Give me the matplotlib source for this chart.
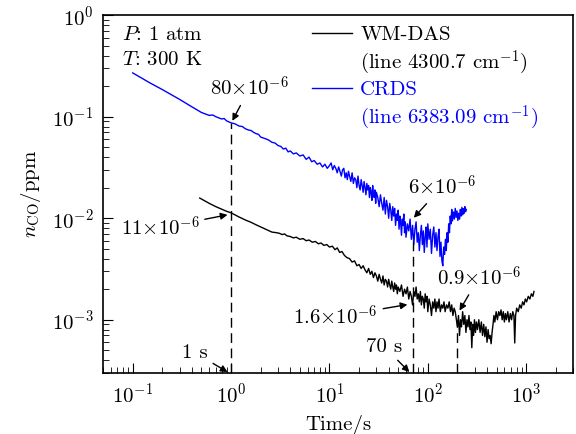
import numpy as np
import matplotlib
matplotlib.use("Agg")
import matplotlib.pyplot as plt

plt.rcParams['font.family'] = 'serif'
plt.rcParams['font.serif'] = ['cmr10', 'DejaVu Serif']
plt.rcParams['mathtext.fontset'] = 'cm'
plt.rcParams['axes.formatter.use_mathtext'] = True

# CRDS trace (line 6383.09 cm-1), early smooth part then the noisy tail
crds_t_early = [0.10, 0.15, 0.20, 0.30, 0.40, 0.50, 0.60, 0.65, 0.70, 0.80, 0.85, 0.90,
                1.0, 1.1, 1.2, 1.3, 1.4, 1.5, 1.6, 1.7, 1.8, 1.9, 2.0, 2.2, 2.4, 2.6,
                2.8, 3.0, 3.2, 3.4, 3.6, 3.8, 4.0, 4.3, 4.6, 5.0, 5.4, 5.8, 6.2, 6.6,
                7.0, 7.5, 8.0, 8.5, 9.0, 9.5]
crds_n_early = [0.270, 0.215, 0.185, 0.148, 0.125, 0.110, 0.103, 0.104, 0.100, 0.095,
                0.096, 0.091, 0.087, 0.085, 0.081, 0.080, 0.076, 0.074, 0.073, 0.070,
                0.068, 0.067, 0.063, 0.061, 0.059, 0.056, 0.055, 0.052, 0.051, 0.048,
                0.049, 0.045, 0.046, 0.043, 0.044, 0.041, 0.042, 0.038, 0.040, 0.036,
                0.037, 0.034, 0.035, 0.032, 0.034, 0.031]
crds_t_late = [10, 10.4, 10.8, 11.2, 11.6, 12, 12.4, 12.8, 13.2, 13.6,
               14, 14.4, 14.8, 15.2, 15.6, 16, 16.5, 17, 17.5, 18,
               18.5, 19, 19.5, 20, 20.5, 21, 21.5, 22, 22.5, 23,
               23.5, 24, 24.5, 25, 25.5, 26, 26.5, 27, 27.5, 28,
               28.5, 29, 29.5, 30, 31, 32, 33, 34, 35, 36,
               37, 38, 39, 40, 41, 42, 43, 44, 45, 46,
               47, 48, 49, 50, 51, 52, 53, 54, 55, 56,
               57, 58, 59, 60, 62, 64, 66, 68, 70, 72,
               74, 76, 78, 80, 82, 84, 86, 88, 90, 92,
               94, 96, 98, 100, 103, 106, 109, 112, 115, 118,
               121, 124, 127, 130, 133, 136, 139, 142, 145, 148,
               151, 154, 157, 160, 163, 166, 169, 172, 175, 178,
               182, 186, 190, 194, 198, 202, 206, 210, 214, 218,
               222, 226, 230, 234, 238, 242, 246]
crds_n_late = [0.033, 0.035, 0.030, 0.033, 0.031, 0.028, 0.032, 0.029, 0.026, 0.030,
               0.031, 0.025, 0.028, 0.024, 0.029, 0.026, 0.023, 0.028, 0.022, 0.025,
               0.024, 0.020, 0.026, 0.021, 0.019, 0.024, 0.021, 0.018, 0.023, 0.020,
               0.017, 0.022, 0.019, 0.021, 0.016, 0.020, 0.018, 0.015, 0.021, 0.017,
               0.016, 0.019, 0.014, 0.018, 0.016, 0.013, 0.017, 0.014, 0.012, 0.016,
               0.011, 0.015, 0.013, 0.010, 0.014, 0.012, 0.0095, 0.013, 0.0105, 0.0125,
               0.0085, 0.011, 0.0095, 0.012, 0.0078, 0.0105, 0.009, 0.0068, 0.0098, 0.0085,
               0.011, 0.0072, 0.0092, 0.0065, 0.0088, 0.0075, 0.0098, 0.0062, 0.0085, 0.0055,
               0.0078, 0.0092, 0.0058, 0.0072, 0.0048, 0.0068, 0.0085, 0.0055, 0.0075, 0.0046,
               0.0065, 0.0082, 0.0052, 0.0088, 0.0062, 0.0078, 0.0045, 0.0068, 0.0082, 0.0052,
               0.0072, 0.0048, 0.0066, 0.0078, 0.0042, 0.0058, 0.0038, 0.0034, 0.0052, 0.0044,
               0.0062, 0.0048, 0.0072, 0.0058, 0.0088, 0.0072, 0.0105, 0.0088, 0.0122, 0.0094,
               0.0115, 0.0098, 0.0125, 0.0102, 0.0118, 0.0095, 0.0112, 0.0098, 0.0122, 0.0105,
               0.0128, 0.0108, 0.0124, 0.0112, 0.0130, 0.0116, 0.0122]

# WM-DAS trace (line 4300.7 cm-1) in three stretches
das_t_a = [0.48, 0.6, 0.7, 0.8, 0.9, 1.0, 1.2, 1.4, 1.6, 1.8, 2.0, 2.3, 2.6, 2.9, 3.1,
           3.3, 3.5, 3.7, 4.0, 4.3, 4.6, 5.0, 5.4, 5.8, 6.2, 6.7, 7.2, 7.7, 8.2, 8.8,
           9.4, 10, 10.7, 11.4, 12, 12.7, 13.4, 14.2, 15, 16, 17, 18, 19]
das_n_a = [0.0158, 0.0140, 0.0130, 0.0123, 0.0117, 0.0113, 0.0103, 0.0096, 0.0091, 0.0086,
           0.0082, 0.0077, 0.0073, 0.0072, 0.0071, 0.0069, 0.0070, 0.0067, 0.0066, 0.0064,
           0.0065, 0.0062, 0.0063, 0.0060, 0.0061, 0.0058, 0.0059, 0.0056, 0.0057, 0.0054,
           0.0055, 0.0052, 0.0053, 0.0049, 0.0051, 0.0046, 0.0047, 0.0043, 0.0041, 0.0040,
           0.0037, 0.0038, 0.0034]
das_t_b = [20, 21, 22, 23, 24, 25, 26, 27, 28, 29,
           30, 31, 32, 33, 34, 35, 36, 37, 38, 39,
           40, 41, 42, 43, 44, 45, 46, 47, 48, 49,
           50, 52, 54, 56, 58, 60, 62, 64, 66, 68,
           70, 72, 74, 76, 78, 80, 82, 84, 86, 88,
           90, 92, 94, 96, 98, 100, 103, 106, 109, 112,
           115, 118, 121, 124, 127, 130, 134, 138, 142, 146,
           150, 155, 160, 165, 170, 175, 180, 185, 190, 195,
           200]
das_n_b = [0.0035, 0.0032, 0.0034, 0.0031, 0.0029, 0.0032, 0.0028, 0.0030, 0.0026, 0.0029,
           0.0027, 0.0024, 0.0028, 0.0025, 0.0023, 0.0027, 0.0022, 0.0025, 0.0024, 0.0021,
           0.0025, 0.0022, 0.0020, 0.0024, 0.0021, 0.0019, 0.0023, 0.0020, 0.0022, 0.0018,
           0.0021, 0.0019, 0.0022, 0.0017, 0.0020, 0.0018, 0.0021, 0.0016, 0.0019, 0.0017,
           0.0014, 0.0019, 0.0017, 0.0021, 0.0016, 0.0018, 0.0015, 0.0019, 0.0014, 0.0017,
           0.0016, 0.0013, 0.0018, 0.0015, 0.0017, 0.0012, 0.0016, 0.0014, 0.0011, 0.0015,
           0.0013, 0.0016, 0.0012, 0.0015, 0.0013, 0.0016, 0.0012, 0.0014, 0.0013, 0.0015,
           0.0012, 0.0014, 0.0013, 0.0015, 0.0012, 0.0014, 0.0011, 0.0013, 0.0012, 0.0010,
           0.00085]
das_t_c = [205, 210, 215, 220, 226, 232, 238, 244, 250, 256,
           262, 268, 274, 280, 286, 292, 298, 305, 312, 320,
           330, 340, 350, 360, 370, 380, 390, 400, 410, 420,
           430, 440, 450, 460, 470, 480, 495, 510, 525, 540,
           555, 570, 585, 600, 615, 630, 650, 670, 690, 710,
           730, 750, 765, 780, 800, 830, 860, 890, 920, 950,
           980, 1010, 1050, 1090, 1130, 1170, 1200]
das_n_c = [0.0011, 0.00070, 0.0010, 0.00085, 0.0012, 0.0009, 0.0011, 0.00075, 0.0010, 0.00085,
           0.0011, 0.0008, 0.00095, 0.00053, 0.0009, 0.0007, 0.0010, 0.00075, 0.00095, 0.0008,
           0.0010, 0.00075, 0.00095, 0.0007, 0.0009, 0.00068, 0.00085, 0.0006, 0.0008, 0.00065,
           0.0007, 0.00058, 0.00075, 0.0009, 0.0011, 0.00095, 0.0012, 0.0010, 0.0012, 0.0011,
           0.00125, 0.0010, 0.0012, 0.00095, 0.00115, 0.0010, 0.0012, 0.00095, 0.00115, 0.0010,
           0.0012, 0.0011, 0.00059, 0.0011, 0.0013, 0.0012, 0.0014, 0.0013, 0.0015, 0.0014,
           0.0016, 0.0015, 0.0017, 0.0016, 0.0018, 0.0017, 0.0019]

crds_t = crds_t_early + crds_t_late
crds_n = crds_n_early + crds_n_late
das_t = das_t_a + das_t_b + das_t_c
das_n = das_n_a + das_n_b + das_n_c

# dashed markers: time and top of the dashed line
mark_t = [1.0, 70, 200]
mark_top = [0.087, 0.0058, 0.0010]

fig = plt.figure(figsize=(5.76, 4.34), dpi=100)
ax = fig.add_axes([0.179, 0.141, 0.816, 0.824])

ax.plot(das_t, das_n, color='black', lw=1.0, label='WM-DAS')
ax.plot([], [], color='none', label=r'(line 4300.7 cm$^{-1}$)')
ax.plot(crds_t, crds_n, color='blue', lw=1.0, label='CRDS')
ax.plot([], [], color='none', label=r'(line 6383.09 cm$^{-1}$)')

for t, top in zip(mark_t, mark_top):
    ax.plot([t, t], [3e-4, top], color='black', ls=(0, (7, 4)), lw=1.0)

ax.set_xscale('log')
ax.set_yscale('log')
ax.set_xlim(0.05, 3000)
ax.set_ylim(3e-4, 1)
ax.tick_params(which='both', direction='in', labelsize=15)
ax.tick_params(which='major', length=7, pad=7)
ax.tick_params(which='minor', length=4)
for s in ax.spines.values():
    s.set_linewidth(1.2)

ax.set_xlabel('Time/s', fontsize=15, labelpad=6)
ax.set_ylabel(r'$n_{\rm CO}$/ppm', fontsize=15, labelpad=6)

ax.text(0.078, 0.636, r'$P$: 1 atm', fontsize=15, va='center')
ax.text(0.078, 0.361, r'$T$: 300 K', fontsize=15, va='center')

leg = ax.legend(loc='upper left', bbox_to_anchor=(0.445, 0.971), frameon=False, fontsize=15,
                handlelength=1.9, handletextpad=0.4, labelspacing=0.2,
                borderpad=0, borderaxespad=0)
leg.get_texts()[2].set_color('blue')
leg.get_texts()[3].set_color('blue')

arw = dict(arrowstyle='-|>', color='black', lw=1.0, mutation_scale=10, shrinkA=2, shrinkB=0)
fs = 15
ax.annotate(r'$80{\times}10^{-6}$', xy=(1.03, 0.091), xytext=(1.54, 0.191), fontsize=fs,
            ha='center', va='center', arrowprops=arw)
ax.annotate(r'$11{\times}10^{-6}$', xy=(0.92, 0.0108), xytext=(0.189, 0.0080), fontsize=fs,
            ha='center', va='center', arrowprops=arw)
ax.annotate(r'$6{\times}10^{-6}$', xy=(72, 0.0101), xytext=(139, 0.0204), fontsize=fs,
            ha='center', va='center', arrowprops=arw)
ax.annotate(r'$0.9{\times}10^{-6}$', xy=(210, 0.00123), xytext=(330, 0.0026), fontsize=fs,
            ha='center', va='center', arrowprops=arw)
ax.annotate(r'$1.6{\times}10^{-6}$', xy=(62, 0.00141), xytext=(11.5, 0.00107), fontsize=fs,
            ha='center', va='center', arrowprops=arw)
ax.annotate('1 s', xy=(0.92, 3.05e-4), xytext=(0.43, 4.75e-4), fontsize=fs,
            ha='center', va='center', arrowprops=arw)
ax.annotate('70 s', xy=(65, 3.05e-4), xytext=(35.9, 5.44e-4), fontsize=fs,
            ha='center', va='center', arrowprops=arw)

fig.savefig('out.png', dpi=100)
